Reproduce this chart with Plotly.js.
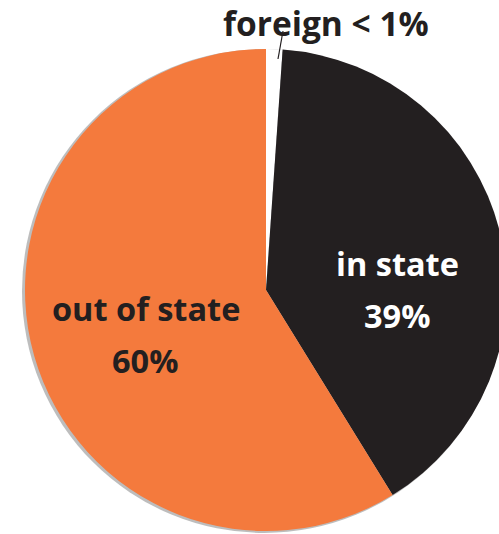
<!DOCTYPE html>
<html><head><meta charset="utf-8">
<script src="https://cdn.plot.ly/plotly-3.0.1.min.js"></script>
<style>html,body{margin:0;padding:0;overflow:hidden;background:#fff;width:499px;height:534px}</style>
</head><body><div id="chart" style="width:534px;height:534px"></div>
<script>
const categories = ["foreign", "in state", "out of state"];
const shares = [1.1, 40.1, 58.8];
const nameLabels = ["foreign < 1%", "in state", "out of state"];
const pctLabels = ["", "39%", "60%"];
const colors = ["#ffffff", "#231f20", "#f47a3d"];

const W = 534, H = 534;
const px = v => v / W, py = v => 1 - v / H;
const font = "'Open Sans', Lato, sans-serif";
const FS = 32.5;

const trace = {
  type: "pie",
  labels: categories,
  values: shares,
  sort: false,
  direction: "clockwise",
  rotation: 0,
  textinfo: "none",
  hoverinfo: "skip",
  marker: {colors: colors, line: {width: 0}},
  domain: {x: [25 / W, 507 / W], y: [3 / H, 485 / H]},
  showlegend: false
};

function ann(text, x, y, color, size) {
  return {text: "<b>" + text + "</b>", x: px(x), y: py(y), xref: "paper", yref: "paper",
    xanchor: "center", yanchor: "middle", showarrow: false,
    font: {family: font, size: size || FS, color: color}};
}

const layout = {
  width: W, height: H,
  margin: {l: 0, r: 0, t: 0, b: 0},
  paper_bgcolor: "#ffffff",
  showlegend: false,
  shapes: [
    {type: "circle", xref: "paper", yref: "paper", layer: "below",
     x0: px(22), x1: px(506), y0: py(533), y1: py(49),
     fillcolor: "rgba(90,90,90,0.4)", line: {width: 0}},
    {type: "line", xref: "paper", yref: "paper",
     x0: px(283), y0: py(31), x1: px(278), y1: py(59),
     line: {color: "#231f20", width: 1.2}}
  ],
  annotations: [
    ann(nameLabels[0], 326, 23, "#231f20", 33.5),
    ann(nameLabels[1], 397, 263, "#ffffff"),
    ann(pctLabels[1], 397, 315, "#ffffff"),
    ann(nameLabels[2], 146, 308, "#231f20"),
    ann(pctLabels[2], 145, 360, "#231f20")
  ]
};

Plotly.newPlot("chart", [trace], layout, {displayModeBar: false, staticPlot: true});
</script></body></html>
